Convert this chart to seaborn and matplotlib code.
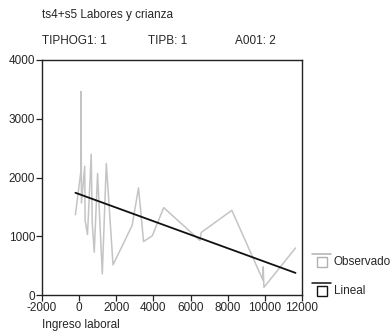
import numpy as np
import pandas as pd
import matplotlib
matplotlib.use("Agg")
import matplotlib.pyplot as plt
import seaborn as sns
from matplotlib.legend_handler import HandlerBase
from matplotlib.lines import Line2D
from matplotlib.patches import Rectangle

# ---- data ----
obs_x = [-200, 90, 100, 125, 300, 320, 450, 650, 705, 813, 993, 1247, 1463,
         1825, 2854, 3197, 3469, 3938, 4553, 6504, 6575, 8222, 9900, 9910,
         9950, 11650]
obs_y = [1368, 2096, 3463, 1566, 2193, 1270, 1030, 2398, 1224, 728, 2068, 359,
         2239, 513, 1185, 1823, 911, 1008, 1487, 928, 1065, 1441, 250, 480,
         130, 800]
lin_x = [-200, 11650]
lin_y = [1740, 376]

x_ticks = [-2000, 0, 2000, 4000, 6000, 8000, 10000, 12000]
y_ticks = [0, 1000, 2000, 3000, 4000]

title = "ts4+s5 Labores y crianza"
sub_labels = ["TIPHOG1: 1", "TIPB: 1", "A001: 2"]
xlabel = "Ingreso laboral"
legend_labels = ["Observado", "Lineal"]

sns.set_style("white")
plt.rcParams['font.family'] = ['Liberation Sans', 'DejaVu Sans']
FS = 8.5

fig = plt.figure(figsize=(3.9, 3.32), dpi=100)
ax = fig.add_axes([42/390, 1-295/332, (302-42)/390, (295-60)/332])

df = pd.DataFrame({"x": obs_x, "y": obs_y})
sns.lineplot(data=df, x="x", y="y", sort=False, estimator=None,
             color="#c4c4c4", lw=1.1, ax=ax)
sns.lineplot(x=lin_x, y=lin_y, sort=False, estimator=None,
             color="#111111", lw=1.3, ax=ax)

ax.set_xlim(-2000, 12000)
ax.set_ylim(0, 4000)
ax.set_xticks(x_ticks)
ax.set_yticks(y_ticks)
ax.set_xticklabels([str(v) for v in x_ticks], fontsize=FS)
ax.set_yticklabels([str(v) for v in y_ticks], fontsize=FS)
ax.tick_params(direction='out', length=4, width=0.9, color='#222222', pad=1,
               bottom=True, left=True)
ax.set_xlabel("")
ax.set_ylabel("")
for s in ax.spines.values():
    s.set_color('#222222')
    s.set_linewidth(1.0)

fig.text(42/390, 1-15/332, title, fontsize=FS, va='center', ha='left')
for xp, t in zip([42, 148, 235], sub_labels):
    fig.text(xp/390, 1-41/332, t, fontsize=FS, va='center', ha='left')
fig.text(42/390, 1-325/332, xlabel, fontsize=FS, va='center', ha='left')


class LineBoxHandler(HandlerBase):
    def __init__(self, color):
        super().__init__()
        self.color = color

    def create_artists(self, legend, orig_handle, xdescent, ydescent,
                       width, height, fontsize, trans):
        ln = Line2D([0, width], [height + 2, height + 2], color=self.color,
                    lw=1.1, transform=trans)
        sq = Rectangle((width / 2 - 3.5, -1), 7, 7, fill=False,
                       edgecolor=self.color, lw=1.0, transform=trans)
        return [ln, sq]


h1 = Line2D([], [], color="#c4c4c4")
h2 = Line2D([], [], color="#111111")
leg = fig.legend([h1, h2], legend_labels,
                 handler_map={h1: LineBoxHandler("#b0b0b0"),
                              h2: LineBoxHandler("#111111")},
                 loc='upper left', bbox_to_anchor=(310/390, 1-254/332),
                 frameon=False, fontsize=FS, handlelength=1.6,
                 handletextpad=0.2, labelspacing=1.45, borderpad=0.2,
                 borderaxespad=0)

fig.savefig("out.png", dpi=100)
